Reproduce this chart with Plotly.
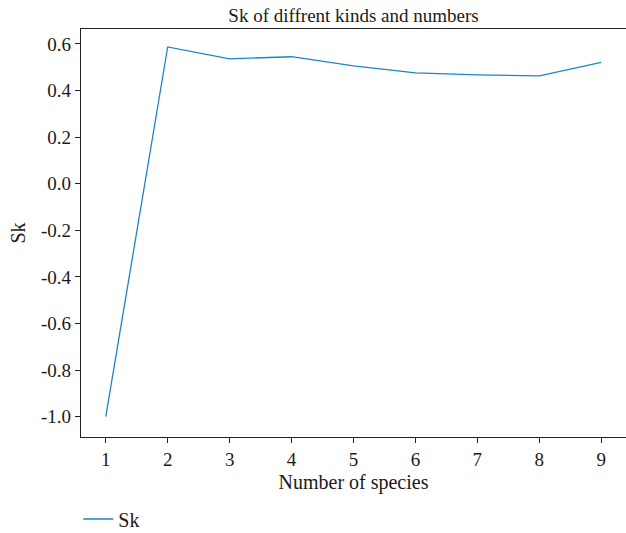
import plotly.graph_objects as go

species = [1, 2, 3, 4, 5, 6, 7, 8, 9]
sk_values = [-1.0, 0.587, 0.536, 0.545, 0.506, 0.476, 0.467, 0.463, 0.521]
x_ticks = [1, 2, 3, 4, 5, 6, 7, 8, 9]
y_ticks = [0.6, 0.4, 0.2, 0.0, -0.2, -0.4, -0.6, -0.8, -1.0]

FONT = "Liberation Serif"

fig = go.Figure()
fig.add_trace(go.Scatter(x=species, y=sk_values, mode="lines", name="Sk",
                         line=dict(color="#1a86c8", width=1.3)))

fig.update_layout(
    width=626, height=533,
    margin=dict(l=81, r=0, t=29, b=96, autoexpand=False),
    paper_bgcolor="white", plot_bgcolor="white",
    font=dict(family=FONT, size=19, color="#1a1a1a"),
    title=dict(text="Sk of diffrent kinds and numbers", x=0.5, xref="paper",
               y=1 - 15/533, yanchor="middle", font=dict(family=FONT, size=19, color="#1a1a1a")),
    showlegend=True,
    legend=dict(orientation="h", x=-0.005, xanchor="left",
                yref="container", y=1 - 519/533, yanchor="middle",
                font=dict(family=FONT, size=20), bgcolor="rgba(0,0,0,0)"),
)
fig.update_xaxes(range=[0.6, 9.4], tickvals=x_ticks, ticktext=[str(v) for v in x_ticks],
                 automargin=False,
                 showgrid=False, zeroline=False, showline=True, linecolor="#222", linewidth=1.2,
                 mirror=True, ticks="outside", ticklen=5, tickcolor="#222",
                 tickfont=dict(family=FONT, size=19),
                 title=dict(text="Number of species", standoff=6, font=dict(family=FONT, size=20)))
fig.update_yaxes(range=[-1.087, 0.664], tickvals=y_ticks, ticktext=[f"{v:.1f}" for v in y_ticks],
                 automargin=False,
                 showgrid=False, zeroline=False, showline=True, linecolor="#222", linewidth=1.2,
                 ticks="outside", ticklen=5, tickcolor="#222",
                 tickfont=dict(family=FONT, size=19),
                 title=dict(text="Sk", standoff=10, font=dict(family=FONT, size=20)))

fig.write_html("out.html")
